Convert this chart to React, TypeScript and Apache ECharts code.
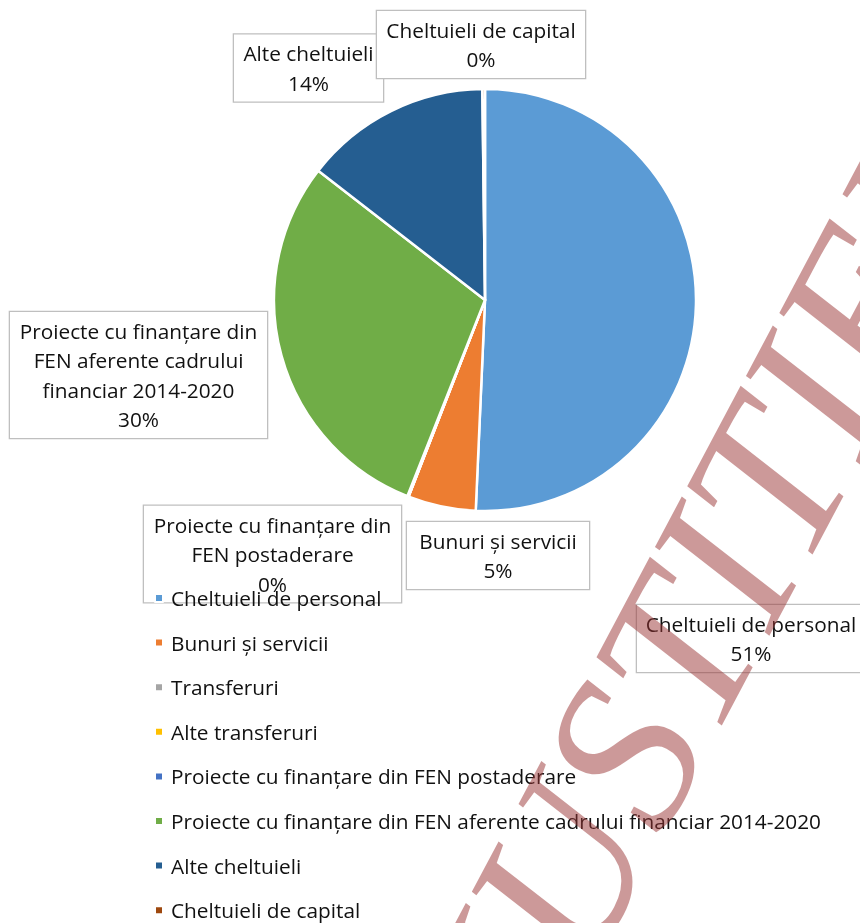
import React, { useEffect, useRef } from "react";
import * as echarts from "echarts";

const categories = [
  "Cheltuieli de personal",
  "Bunuri și servicii",
  "Transferuri",
  "Alte transferuri",
  "Proiecte cu finanțare din FEN postaderare",
  "Proiecte cu finanțare din FEN aferente cadrului financiar 2014-2020",
  "Alte cheltuieli",
  "Cheltuieli de capital",
];
const values = [50.7, 5.2, 0, 0, 0.1, 29.5, 14.3, 0.2];
const labelNames = [
  "Cheltuieli de personal",
  "Bunuri și servicii",
  "Transferuri",
  "Alte transferuri",
  "Proiecte cu finanțare din\nFEN postaderare",
  "Proiecte cu finanțare din\nFEN aferente cadrului\nfinanciar 2014-2020",
  "Alte cheltuieli",
  "Cheltuieli de capital",
];
const colors = ["#5B9BD5", "#ED7D31", "#A5A5A5", "#FFC000", "#4472C4", "#70AD47", "#255E91", "#9E480E"];
const watermarkText = "JUSTITIEI";

// label box placement: [centerX, centerY, contentWidth]
const labelBoxes: Record<number, [number, number, number]> = {
  0: [751, 638.5, 212],
  1: [498, 555.5, 166],
  4: [272.5, 554, 241],
  5: [138.5, 375, 241],
  6: [308.5, 68, 133],
  7: [481, 44.5, 192],
};

export default function App() {
  const ref = useRef<HTMLDivElement>(null);
  useEffect(() => {
    if (!ref.current) return;
    const chart = echarts.init(ref.current, undefined, { renderer: "svg" });
    const font = "Open Sans";
    const fs = 20.8;
    const data = categories.map((name, i) => ({
      name,
      value: values[i],
      label: {
        show: values[i] !== 0,
        width: labelBoxes[i] ? labelBoxes[i][2] : undefined,
        overflow: "none",
      },
    }));
    chart.setOption({
      animation: false,
      color: colors,
      legend: {
        orient: "vertical",
        left: 154,
        top: 587.5,
        height: 360,
        padding: 0,
        itemWidth: 8,
        itemHeight: 8,
        itemGap: 23.6,
        icon: "rect",
        data: categories,
        textStyle: {
          fontFamily: font,
          fontSize: fs,
          lineHeight: 21,
          color: "#111",
          padding: [0, 0, 0, 3],
        },
        selectedMode: false,
      },
      series: [
        {
          type: "pie",
          center: [485, 300],
          radius: 211,
          startAngle: 90,
          clockwise: true,
          avoidLabelOverlap: false,
          stillShowZeroSum: true,
          percentPrecision: 0,
          itemStyle: { borderColor: "#fff", borderWidth: 2.5 },
          emphasis: { disabled: true },
          labelLine: { show: false },
          label: {
            position: "outside",
            formatter: (p: any) => `${labelNames[p.dataIndex]}\n${p.percent}%`,
            fontFamily: font,
            fontSize: fs,
            lineHeight: 29.5,
            color: "#111",
            align: "center",
            backgroundColor: "#fff",
            borderColor: "#BFBFBF",
            borderWidth: 1.3,
            padding: [4, 8],
          },
          labelLayout: (params: any) => {
            const b = labelBoxes[params.dataIndex];
            if (!b) return {};
            return { x: b[0], y: b[1], align: "center", verticalAlign: "middle", hideOverlap: false };
          },
          data,
        },
      ],
      graphic: [
        {
          type: "text",
          z: 100,
          x: 702,
          y: 606,
          rotation: (62 * Math.PI) / 180,
          silent: true,
          style: {
            text: watermarkText,
            font: 'italic 218px "Liberation Serif"',
            fill: "rgba(153,51,51,0.5)",
            textAlign: "center",
            textVerticalAlign: "middle",
          },
        },
      ],
    });
    return () => chart.dispose();
  }, []);
  return <div ref={ref} style={{ position: "fixed", left: 0, top: 0, width: 860, height: 923 }} />;
}
